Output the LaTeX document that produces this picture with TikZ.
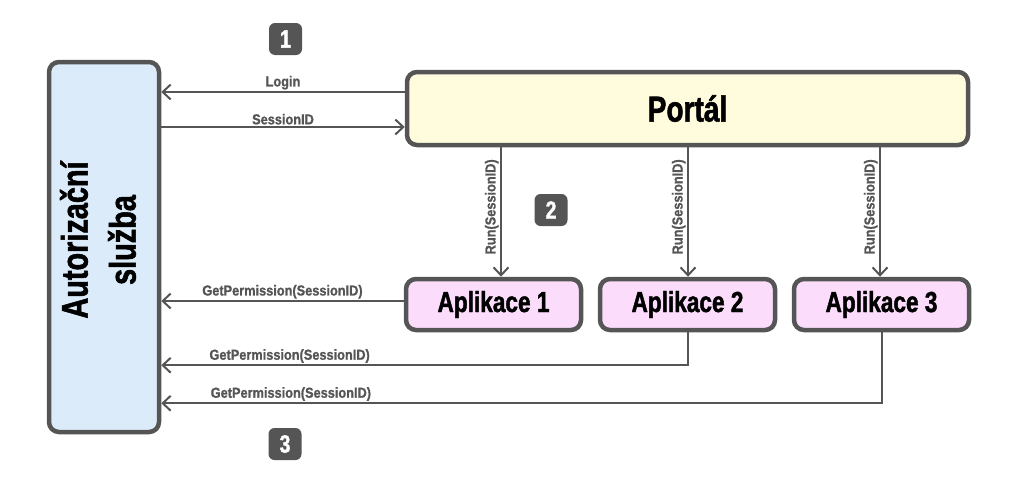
\documentclass[tikz,border=0pt]{standalone}
\usepackage{fontspec}
\usetikzlibrary{arrows.meta}
\newfontfamily\impf[FakeStretch=0.78,FakeBold=1.5]{Liberation Sans}
\newfontfamily\labf[FakeStretch=0.88,FakeBold=1]{Liberation Sans}
\definecolor{linec}{HTML}{555555}
\definecolor{authfill}{HTML}{DCEBFA}
\definecolor{portfill}{HTML}{FFFCDD}
\definecolor{appfill}{HTML}{FBDDFB}
\begin{document}
\begin{tikzpicture}[x=1pt,y=-1pt,
  box/.style={draw=linec, line width=4.5pt, rounded corners=10pt, inner sep=0pt},
  conn/.style={draw=linec, line width=2pt, -{Straight Barb[length=8pt,width=15pt]}},
  lab/.style={font=\labf\bfseries\fontsize{14.5}{16}\selectfont, text=linec, inner sep=1.5pt},
  badge/.style={fill=linec, rounded corners=6pt, minimum width=33pt, minimum height=32pt, inner sep=0pt, text=white, font=\impf\bfseries\fontsize{25}{28}\selectfont}]
\useasboundingbox (0,0) rectangle (1024,485);
% boxes
\node[box, fill=authfill, minimum width=110pt, minimum height=370pt] (auth) at (104,247) {};
\node[rotate=90, align=center, inner sep=0pt, font=\impf\bfseries\fontsize{37}{48}\selectfont] (authtxt) at (98,240) {Autorizační\\služba};
\node[box, fill=portfill, minimum width=561pt, minimum height=73pt, font=\impf\bfseries\fontsize{36}{40}\selectfont] (portal) at (687.5,108.5) {Portál};
\node[box, fill=appfill, minimum width=175pt, minimum height=51pt, font=\impf\bfseries\fontsize{29}{32}\selectfont] (app1) at (493.5,304.5) {Aplikace 1};
\node[box, fill=appfill, minimum width=175pt, minimum height=51pt, font=\impf\bfseries\fontsize{29}{32}\selectfont] (app2) at (687.5,304.5) {Aplikace 2};
\node[box, fill=appfill, minimum width=175pt, minimum height=51pt, font=\impf\bfseries\fontsize{29}{32}\selectfont] (app3) at (881.5,304.5) {Aplikace 3};
% badges
\node[badge] (b1) at (285.5,39) {1};
\node[badge] (b2) at (551,210) {2};
\node[badge] (b3) at (285,444) {3};
% helper coordinates
\coordinate (lg) at ([yshift=16.5pt]portal.west);
\coordinate (sid) at ([yshift=-18.5pt]portal.west);
\coordinate (r1) at ([xshift=7.5pt]app1.north);
\coordinate (r2) at ([xshift=0.5pt]app2.north);
\coordinate (r3) at ([xshift=-1.5pt]app3.north);
\coordinate (g1) at ([yshift=3.5pt]app1.west);
\coordinate (g2) at ([yshift=-33pt]app2.south);
\coordinate (g3) at ([yshift=-71pt]app3.south);
% connectors
\draw[conn] (lg) -- node[lab, above] {Login} (lg -| auth.east);
\draw[conn] (sid -| auth.east) -- node[lab, above] {SessionID} (sid);
\draw[conn] (r1 |- portal.south) -- node[lab, rotate=90, above, pos=0.46] {Run(SessionID)} (r1);
\draw[conn] (r2 |- portal.south) -- node[lab, rotate=90, above, pos=0.46] {Run(SessionID)} (r2);
\draw[conn] (r3 |- portal.south) -- node[lab, rotate=90, above, pos=0.46] {Run(SessionID)} (r3);
\draw[conn] (g1) -- node[lab, above] {GetPermission(SessionID)} (g1 -| auth.east);
\draw[conn] (app2.south) |- node[lab, above, pos=0.878] {GetPermission(SessionID)} (g2 -| auth.east);
\draw[conn] (app3.south) |- node[lab, above, pos=0.91] {GetPermission(SessionID)} (g3 -| auth.east);
\end{tikzpicture}
\end{document}
